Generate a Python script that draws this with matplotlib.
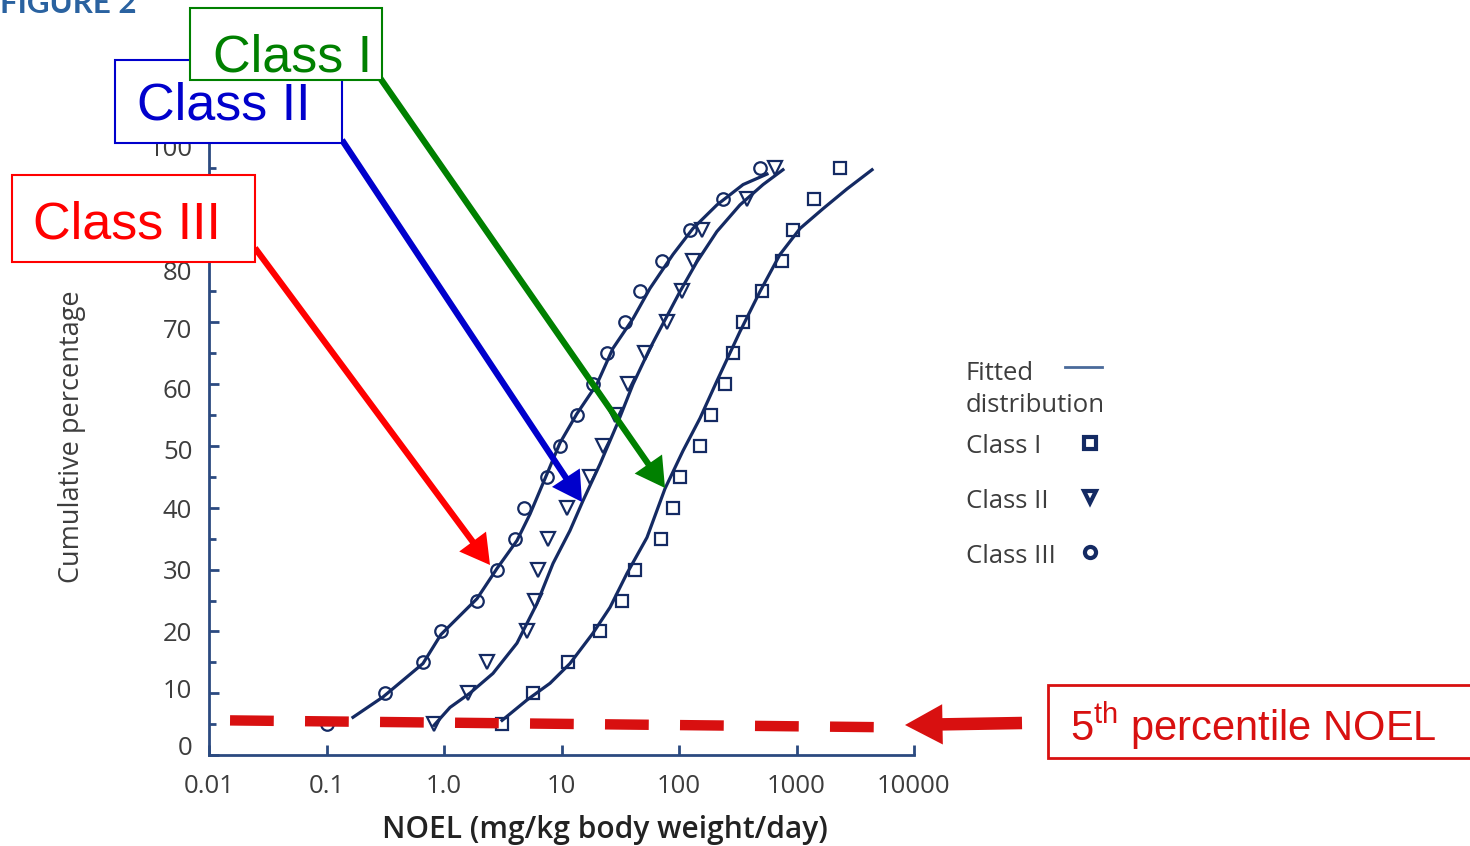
"""
Cumulative NOEL distributions for Cramer classes I-III, with the callout boxes
and arrows drawn on top of the figure.
"""

import matplotlib
matplotlib.use("Agg")
import matplotlib.pyplot as plt
from matplotlib.lines import Line2D
from matplotlib.patches import Rectangle, FancyArrowPatch
from matplotlib.transforms import Affine2D

plt.rcParams['mathtext.fontset'] = 'custom'
plt.rcParams['mathtext.rm'] = 'Liberation Sans'

# observed points (cumulative percentage vs NOEL)
pct = [5, 10, 15, 20, 25, 30, 35, 40, 45, 50, 55, 60, 65, 70, 75, 80, 85, 90, 95]
noel_class1 = [3.1, 5.7, 11.4, 21.3, 33, 42, 70, 89, 102, 151, 187, 246, 288, 351, 508, 753, 933, 1410, 2345]
noel_class2 = [0.82, 1.6, 2.3, 5.1, 5.9, 6.3, 7.7, 11.1, 17.5, 22.5, 28.5, 36.8, 51, 79, 106, 131, 157, 379, 656]
noel_class3 = [0.1, 0.315, 0.66, 0.94, 1.9, 2.8, 4.0, 4.8, 7.5, 9.7, 13.5, 18.5, 24.4, 34.7, 46.6, 71.6, 124, 237, 489]

# fitted curves
fit1_x = [3.12, 5.08, 7.98, 11.8, 18.5, 25.9, 36.1, 53.4, 76.0, 108, 151, 210, 330, 489, 724, 1072, 1682, 2690, 4395]
fit1_y = [5.6, 8.9, 11.6, 14.8, 19.7, 23.9, 29.4, 35.2, 43.1, 49.2, 54.5, 60.5, 68.5, 75.0, 81.0, 85.2, 88.4, 91.6, 94.7]
fit2_x = [0.822, 1.125, 1.66, 2.61, 4.18, 6.18, 8.47, 11.8, 15.2, 21.3, 29.7, 40.6, 56.6, 73.1, 102, 142, 210, 330, 519, 767]
fit2_y = [4.8, 7.7, 10.0, 13.2, 18.1, 24.5, 31.0, 36.3, 41.1, 47.1, 53.5, 60.0, 65.8, 69.8, 75.0, 79.8, 84.7, 89.0, 92.3, 94.7]
fit3_x = [0.168, 0.303, 0.662, 0.942, 1.91, 2.83, 4.18, 5.40, 7.53, 9.71, 13.5, 20.0, 27.4, 40.6, 56.6, 88.9, 131.5, 210, 351, 561]
fit3_y = [6.1, 9.4, 14.8, 19.5, 25.3, 30.2, 34.7, 39.0, 45.5, 50.5, 55.2, 60.0, 65.8, 70.6, 75.5, 81.0, 85.2, 89.0, 92.3, 94.0]

# 5th percentile guide line
p5_x = [0.0151, 5140]
p5_y = [5.6, 4.5]

x_ticks = [0.01, 0.1, 1, 10, 100, 1000, 10000]
x_tick_labels = ['0.01', '0.1', '1.0', '10', '100', '1000', '10000']
y_ticks = [0, 10, 20, 30, 40, 50, 60, 70, 80, 90, 100]
# the scanned y labels drift a little off their ticks (pixels, + = up)
y_label_shift = [10, 5, 0, 0, -1, -3, -4, -6, -10, -10, -10]

W, H = 1470, 846
navy = '#142a63'
axis_col = '#2b4a80'
grey = '#3d3d3d'
font = 'Open Sans'


def fpos(x, y):
    # pixel position in the picture -> figure fraction
    return (x / W, 1 - y / H)


fig = plt.figure(figsize=(W / 100, H / 100), dpi=100)
ax = fig.add_axes([209 / W, 91 / H, 705 / W, 618 / H])

ax.plot(fit1_x, fit1_y, color=navy, lw=2.3)
ax.plot(fit2_x, fit2_y, color=navy, lw=2.3)
ax.plot(fit3_x, fit3_y, color=navy, lw=2.3)
ax.plot(noel_class1, pct, 's', ms=9, mfc='none', mec=navy, mew=1.6)
ax.plot(noel_class2, pct, 'v', ms=9.5, mfc='none', mec=navy, mew=1.6)
ax.plot(noel_class3, pct, 'o', ms=9, mfc='none', mec=navy, mew=1.6)

ax.plot(p5_x, p5_y, color='#d81010', lw=7.5, dashes=(4.2, 3.0), solid_capstyle='butt',
        dash_capstyle='butt', zorder=10)

ax.set_xscale('log')
ax.set_xlim(0.01, 10000)
ax.set_ylim(0, 100)
ax.set_xticks(x_ticks)
ax.set_xticklabels(x_tick_labels)
ax.minorticks_off()
ax.set_yticks(y_ticks)
ax.set_yticks([5, 15, 25, 35, 45, 55, 65, 75, 85, 95], minor=True)
ax.tick_params(axis='both', which='major', direction='in', length=7, width=2, color=axis_col,
               labelsize=18.5, labelcolor=grey)
ax.tick_params(axis='y', which='minor', direction='in', length=5, width=2, color=axis_col)
ax.tick_params(axis='x', pad=14)
ax.tick_params(axis='y', pad=12)
for lab in ax.get_xticklabels() + ax.get_yticklabels():
    lab.set_family(font)
for tick, shift in zip(ax.yaxis.get_major_ticks(), y_label_shift):
    tick.label1.set_transform(tick.label1.get_transform() + Affine2D().translate(0, shift))

for side in ['top', 'right']:
    ax.spines[side].set_visible(False)
for side in ['left', 'bottom']:
    ax.spines[side].set_color(axis_col)
    ax.spines[side].set_linewidth(2)

ax.set_xlabel('NOEL (mg/kg body weight/day)', fontsize=21.5, family=font, weight='semibold',
              color='#222222')
ax.xaxis.set_label_coords(0.562, -0.097)
ax.set_ylabel('Cumulative percentage', fontsize=19.5, family=font, color=grey)
ax.yaxis.set_label_coords(-0.175, 0.515)

# legend, built by hand
leg_rows = [(380, 'Fitted'), (412, 'distribution'), (453, 'Class I'), (508, 'Class II'), (563, 'Class III')]
for ly, txt in leg_rows:
    fig.text(*fpos(966, ly), txt, fontsize=18.5, family=font, color=grey, va='baseline')
fig.add_artist(Line2D([1065 / W, 1102 / W], [1 - 367 / H, 1 - 367 / H], color='#4a6a9a', lw=2,
                      transform=fig.transFigure))
for ly, mk in [(443, 's'), (497, 'v'), (552, 'o')]:
    fig.add_artist(Line2D([1090 / W], [1 - ly / H], marker=mk, ms=8, mfc='white', mec=navy,
                          mew=3, transform=fig.transFigure))

# FIGURE 2 header, cut off at the top
fig.text(*fpos(0, 13), 'FIGURE 2', fontsize=22.5, family='Lato', weight='bold',
         color='#2a62a0', va='baseline')

# callout boxes
boxes = [
    ((115, 60, 342, 143), 'Class II', (137, 120), '#0000cc', 5),
    ((190, 8, 382, 80), 'Class I', (213, 72), '#008000', 7),
    ((12, 175, 255, 262), 'Class III', (33, 238), '#ff0000', 5),
]
for (x0, y0, x1, y1), txt, (tx, ty), col, z in boxes:
    fig.add_artist(Rectangle(fpos(x0, y1), (x1 - x0) / W, (y1 - y0) / H, transform=fig.transFigure,
                             facecolor='white', edgecolor=col, lw=1.5, zorder=z))
    fig.text(*fpos(tx, ty), txt, fontsize=37.5, family='Liberation Sans', color=col,
             va='baseline', zorder=z + 1)

fig.add_artist(Rectangle(fpos(1048, 758), 430 / W, 73 / H, transform=fig.transFigure,
                         facecolor='white', edgecolor='#d81010', lw=2, zorder=5))
fig.text(*fpos(1070, 741), r'5$^{\mathrm{th}}$ percentile NOEL', fontsize=30, family='Liberation Sans',
         color='#d81010', va='baseline', zorder=6)

# arrows
arrows = [
    ((378, 75), (665, 488), '#008000', 'simple,head_length=21,head_width=24,tail_width=4.5'),
    ((342, 140), (582, 502), '#0000cc', 'simple,head_length=21,head_width=24,tail_width=4.5'),
    ((255, 248), (490, 565), '#ff0000', 'simple,head_length=21,head_width=24,tail_width=4.5'),
    ((1022, 723), (905, 725), '#d81010', 'simple,head_length=27,head_width=29,tail_width=9'),
]
for start, end, col, style in arrows:
    fig.add_artist(FancyArrowPatch(fpos(*start), fpos(*end), transform=fig.transFigure,
                                   arrowstyle=style, color=col, lw=0, shrinkA=0, shrinkB=0, zorder=4))

fig.savefig('out.png', dpi=100)
